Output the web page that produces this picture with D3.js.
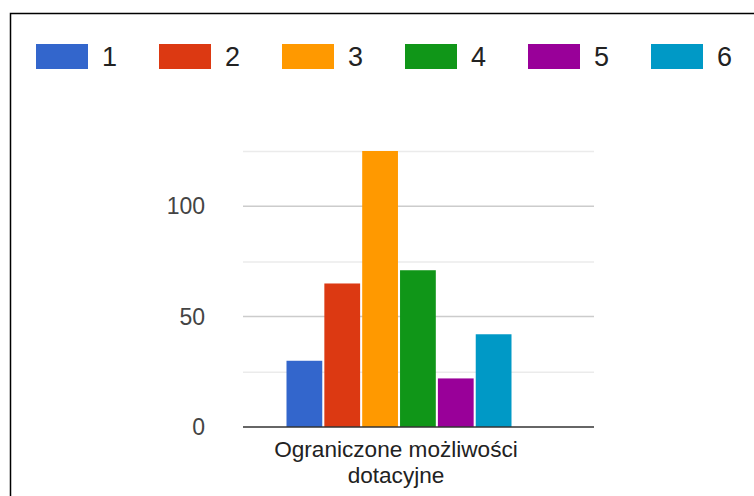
<!DOCTYPE html>
<html>
<head>
<meta charset="utf-8">
<script src="https://cdn.jsdelivr.net/npm/d3@7"></script>
<style>
html,body{margin:0;padding:0;background:#fff;}
svg{display:block;}
</style>
</head>
<body>
<svg id="chart" width="754" height="496"></svg>
<script>
const categories = ["Ograniczone możliwości dotacyjne"];
const categoryLines = [["Ograniczone możliwości", "dotacyjne"]];
const seriesNames = ["1", "2", "3", "4", "5", "6"];
const seriesValues = [30, 65, 125, 71, 22, 42];
const seriesColors = ["#3366cc", "#dc3912", "#ff9900", "#109618", "#990099", "#0099c6"];
const yTicks = [0, 50, 100];
const yMinorTicks = [25, 75, 125];

const svg = d3.select("#chart");
const font = "Arial, 'Liberation Sans', sans-serif";

// frame border (top and left)
svg.append("path")
  .attr("d", "M10.5,496 V13.5 H754")
  .attr("fill", "none").attr("stroke", "#000").attr("stroke-width", 1.5);

// scales
const plotLeft = 243, plotRight = 594;
const y = d3.scaleLinear().domain([0, 125]).range([427, 151]);
const x0 = d3.scaleBand().domain(categories).range([286.5, 511.5]).paddingInner(0).paddingOuter(0);
const x1 = d3.scaleBand().domain(seriesNames).range([0, x0.bandwidth()]).paddingInner(0.055).paddingOuter(0);

// gridlines
svg.append("g").selectAll("line.minor").data(yMinorTicks).join("line")
  .attr("x1", plotLeft).attr("x2", plotRight)
  .attr("y1", d => y(d) + 0.5).attr("y2", d => y(d) + 0.5)
  .attr("stroke", "#ebebeb").attr("stroke-width", 1.5);
svg.append("g").selectAll("line.major").data(yTicks.filter(d => d !== 0)).join("line")
  .attr("x1", plotLeft).attr("x2", plotRight)
  .attr("y1", d => y(d)).attr("y2", d => y(d))
  .attr("stroke", "#cccccc").attr("stroke-width", 1.5);

// y tick labels
svg.append("g").selectAll("text").data(yTicks).join("text")
  .attr("x", 205).attr("y", d => y(d))
  .attr("dy", "0.36em")
  .attr("text-anchor", "end")
  .attr("font-family", font).attr("font-size", 23)
  .attr("fill", "#444")
  .text(d => d);

// bars
const groups = svg.append("g").selectAll("g").data(categories).join("g")
  .attr("transform", d => `translate(${x0(d)},0)`);
groups.selectAll("rect").data(seriesNames.map((s, i) => ({s, v: seriesValues[i], c: seriesColors[i]})))
  .join("rect")
  .attr("x", d => x1(d.s))
  .attr("width", x1.bandwidth())
  .attr("y", d => y(d.v))
  .attr("height", d => y(0) - y(d.v))
  .attr("fill", d => d.c);

// baseline
svg.append("line")
  .attr("x1", plotLeft).attr("x2", plotRight)
  .attr("y1", y(0)).attr("y2", y(0))
  .attr("stroke", "#333").attr("stroke-width", 1.5);

// category label
categories.forEach((c, ci) => {
  const cx = x0(c) + x0.bandwidth() / 2 - 3;
  const t = svg.append("text")
    .attr("x", cx).attr("y", 457)
    .attr("text-anchor", "middle")
    .attr("font-family", font).attr("font-size", 22.6)
    .attr("fill", "#222");
  categoryLines[ci].forEach((line, li) => {
    t.append("tspan").attr("x", cx).attr("dy", li === 0 ? 0 : 26).text(line);
  });
});

// legend
const legend = svg.append("g").selectAll("g").data(seriesNames).join("g")
  .attr("transform", (d, i) => `translate(${36 + i * 123},44)`);
legend.append("rect")
  .attr("width", 52).attr("height", 25)
  .attr("fill", (d, i) => seriesColors[i]);
legend.append("text")
  .attr("x", 66).attr("y", 22)
  .attr("font-family", font).attr("font-size", 27)
  .attr("fill", "#222")
  .text(d => d);
</script>
</body>
</html>
